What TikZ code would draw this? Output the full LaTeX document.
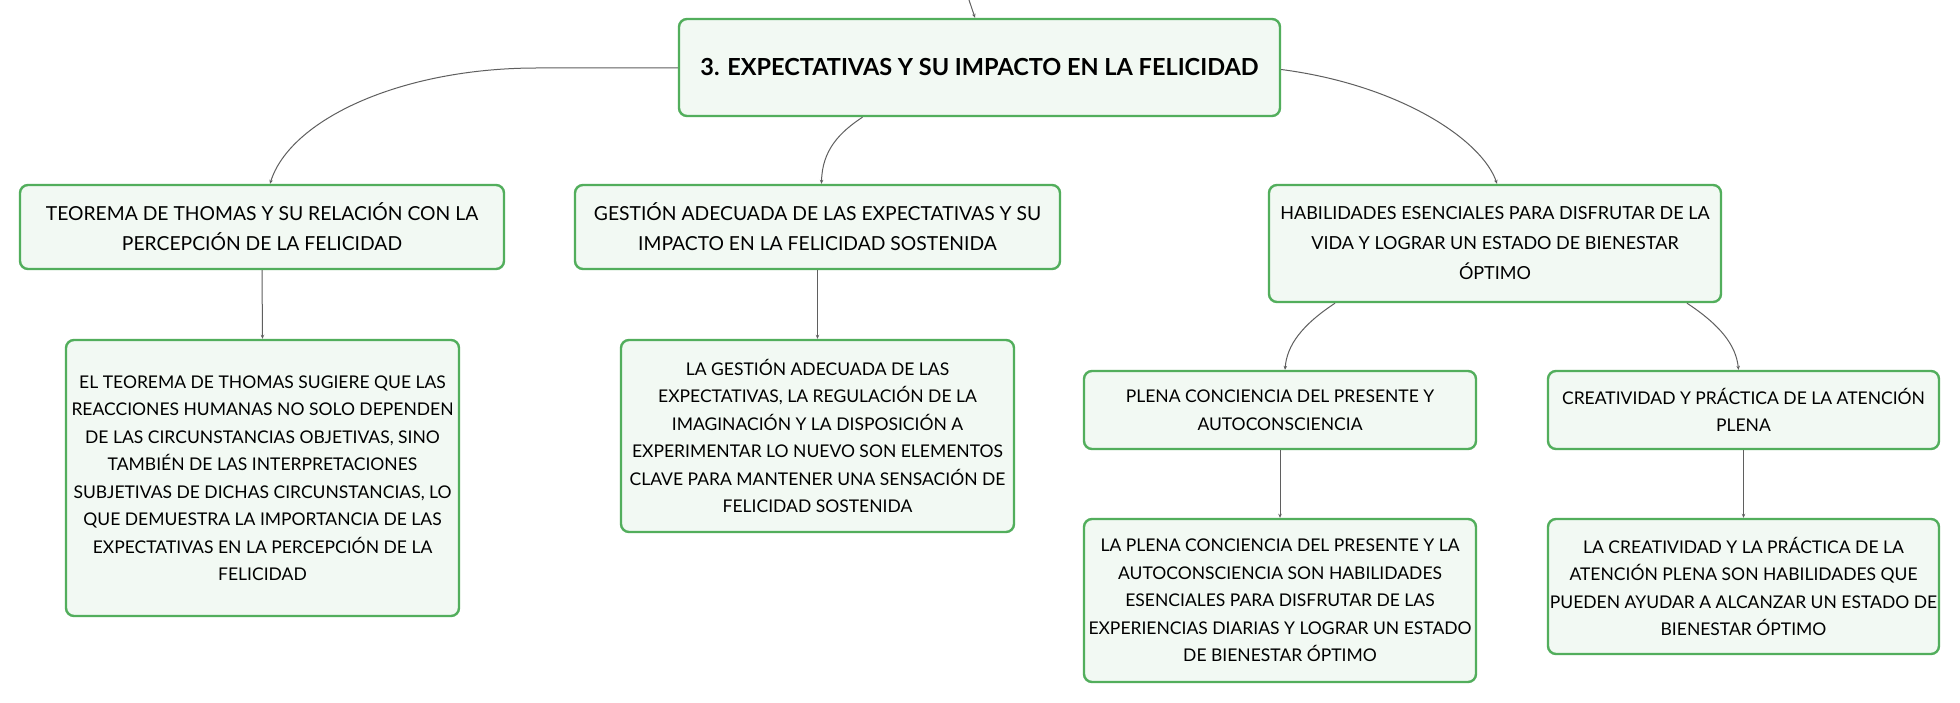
\documentclass[tikz,border=0pt]{standalone}
\usepackage{fontspec}
\setmainfont{Lato}
\usetikzlibrary{arrows.meta,calc}
\definecolor{boxgreen}{RGB}{82,174,92}
\definecolor{boxfill}{RGB}{242,249,243}
\definecolor{linkgray}{RGB}{95,95,95}
\tikzset{
  mbox/.style={draw=boxgreen,line width=2.4pt,fill=boxfill,rounded corners=8pt,
    align=center,inner sep=0pt,font=\fontsize{17.5}{27.5}\selectfont},
  lonebox/.style={mbox,font=\fontsize{19.3}{30}\selectfont},
  lonecbox/.style={mbox,font=\fontsize{18}{30}\selectfont},
  titlebox/.style={mbox,font=\fontsize{23.5}{28}\selectfont\bfseries},
  link/.style={draw=linkgray,line width=1pt,-{Stealth[length=4pt,width=3.5pt]}},
}
\begin{document}
\begin{tikzpicture}[x=1pt,y=-1pt]
\useasboundingbox[fill=white] (0,0) rectangle (1960,703);

\node[titlebox,minimum width=601pt,minimum height=97pt] (root) at (979.5,67.5)
  {3. EXPECTATIVAS Y SU IMPACTO EN LA FELICIDAD};

\node[lonebox,minimum width=484pt,minimum height=84pt] (A) at (262,227)
  {TEOREMA DE THOMAS Y SU RELACIÓN CON LA\\PERCEPCIÓN DE LA FELICIDAD};
\node[lonebox,minimum width=485pt,minimum height=84pt] (B) at (817.5,227)
  {GESTIÓN ADECUADA DE LAS EXPECTATIVAS Y SU\\IMPACTO EN LA FELICIDAD SOSTENIDA};
\node[lonecbox,minimum width=452pt,minimum height=117pt] (C) at (1495,243.5)
  {HABILIDADES ESENCIALES PARA DISFRUTAR DE LA\\VIDA Y LOGRAR UN ESTADO DE BIENESTAR\\ÓPTIMO};

\node[mbox,minimum width=393pt,minimum height=276pt] (A2) at (262.5,478)
  {EL TEOREMA DE THOMAS SUGIERE QUE LAS\\REACCIONES HUMANAS NO SOLO DEPENDEN\\DE LAS CIRCUNSTANCIAS OBJETIVAS, SINO\\TAMBIÉN DE LAS INTERPRETACIONES\\SUBJETIVAS DE DICHAS CIRCUNSTANCIAS, LO\\QUE DEMUESTRA LA IMPORTANCIA DE LAS\\EXPECTATIVAS EN LA PERCEPCIÓN DE LA\\FELICIDAD};
\node[mbox,minimum width=393pt,minimum height=192pt] (B2) at (817.5,436)
  {LA GESTIÓN ADECUADA DE LAS\\EXPECTATIVAS, LA REGULACIÓN DE LA\\IMAGINACIÓN Y LA DISPOSICIÓN A\\EXPERIMENTAR LO NUEVO SON ELEMENTOS\\CLAVE PARA MANTENER UNA SENSACIÓN DE\\FELICIDAD SOSTENIDA};

\node[mbox,minimum width=392pt,minimum height=78pt] (C1) at (1280,410)
  {PLENA CONCIENCIA DEL PRESENTE Y\\AUTOCONSCIENCIA};
\node[mbox,minimum width=391pt,minimum height=78pt] (C2) at (1743.5,410)
  {CREATIVIDAD Y PRÁCTICA DE LA ATENCIÓN\\PLENA};
\node[mbox,minimum width=392pt,minimum height=163pt] (C1b) at (1280,600.5)
  {LA PLENA CONCIENCIA DEL PRESENTE Y LA\\AUTOCONSCIENCIA SON HABILIDADES\\ESENCIALES PARA DISFRUTAR DE LAS\\EXPERIENCIAS DIARIAS Y LOGRAR UN ESTADO\\DE BIENESTAR ÓPTIMO};
\node[mbox,minimum width=391pt,minimum height=135pt] (C2b) at (1743.5,586.5)
  {LA CREATIVIDAD Y LA PRÁCTICA DE LA\\ATENCIÓN PLENA SON HABILIDADES QUE\\PUEDEN AYUDAR A ALCANZAR UN ESTADO DE\\BIENESTAR ÓPTIMO};

% incoming link from off-picture parent
\coordinate (up) at (969,0);
\draw[link] (up) -- ([xshift=-4.5pt]root.north);

% root to level 1
\coordinate (rA) at (537,68);
\draw[link] (root.west |- rA) -- (rA) .. controls (400,68) and (290,120) .. ([xshift=8pt]A.north);
\draw[link] ([xshift=-117pt]root.south) .. controls (840,132) and (822,150) .. ([xshift=4pt]B.north);
\draw[link] ([yshift=-2pt]root.east) .. controls (1400,85) and (1482,140) .. ([xshift=2pt]C.north);

% C to C1, C2
\draw[link] ([xshift=-160pt]C.south) .. controls (1302,325) and (1287,345) .. ([xshift=5pt]C1.north);
\draw[link] ([xshift=192pt]C.south) .. controls (1720,325) and (1736,345) .. ([xshift=-5pt]C2.north);

% vertical links
\draw[link] (A.south) -- (A2.north);
\draw[link] (B.south) -- (B2.north);
\draw[link] (C1.south) -- (C1b.north);
\draw[link] (C2.south) -- (C2b.north);
\end{tikzpicture}
\end{document}
